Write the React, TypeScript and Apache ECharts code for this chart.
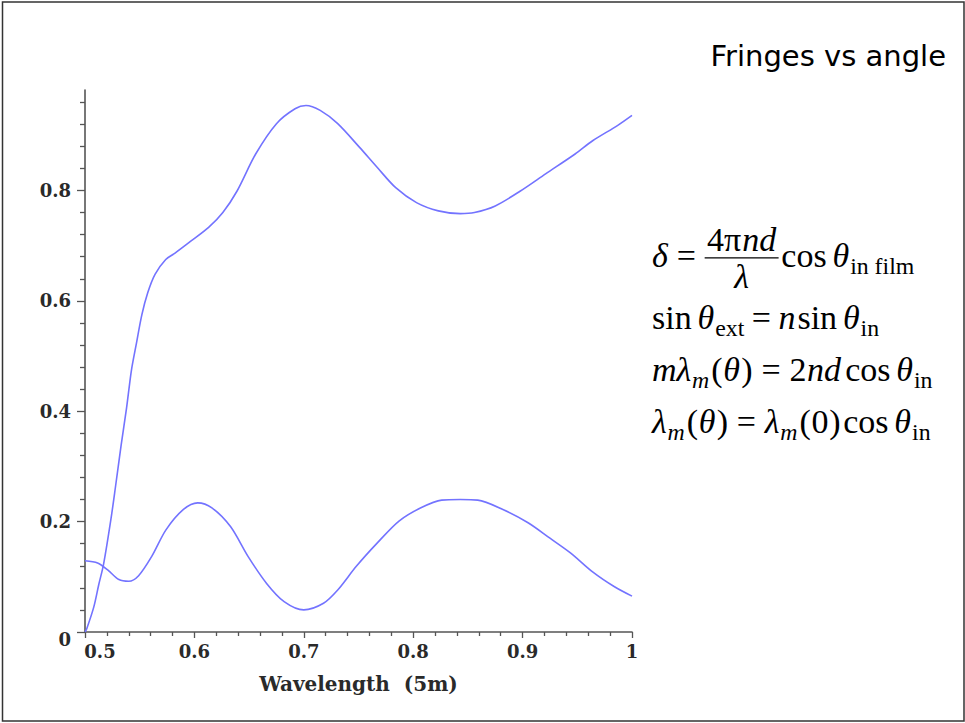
import React, { useEffect, useRef } from "react";
import * as echarts from "echarts";

// ---- data ----
const xTickValues = [0.5, 0.6, 0.7, 0.8, 0.9, 1];
const yLabelValues = [0, 0.2, 0.4, 0.6, 0.8];
const yMinorTickValues = [
  0.04, 0.08, 0.12, 0.16, 0.24, 0.28, 0.32, 0.36, 0.44, 0.48, 0.52, 0.56,
  0.64, 0.68, 0.72, 0.76, 0.84, 0.88, 0.92, 0.96,
];

const upperX = [
  0.5, 0.5016, 0.508, 0.5126, 0.517, 0.5236, 0.528, 0.533, 0.538, 0.5425,
  0.547, 0.552, 0.5574, 0.564, 0.5738, 0.582, 0.5967, 0.613, 0.626, 0.639,
  0.656, 0.675, 0.692, 0.702, 0.715, 0.731, 0.751, 0.767, 0.784, 0.803,
  0.823, 0.843, 0.856, 0.875, 0.898, 0.921, 0.948, 0.964, 0.987, 1.0,
];
const upperY = [
  0.0, 0.006, 0.045, 0.086, 0.123, 0.203, 0.265, 0.338, 0.406, 0.475,
  0.523, 0.575, 0.615, 0.648, 0.675, 0.686, 0.708, 0.733, 0.76, 0.799,
  0.866, 0.921, 0.948, 0.954, 0.945, 0.921, 0.878, 0.842, 0.805, 0.778,
  0.763, 0.758, 0.76, 0.772, 0.799, 0.83, 0.866, 0.89, 0.918, 0.936,
];

const lowerX = [
  0.5, 0.5115, 0.521, 0.531, 0.54, 0.549, 0.561, 0.574, 0.59, 0.603, 0.616,
  0.633, 0.649, 0.666, 0.682, 0.7, 0.718, 0.731, 0.748, 0.767, 0.787, 0.807,
  0.826, 0.843, 0.859, 0.882, 0.905, 0.925, 0.944, 0.964, 0.984, 1.0,
];
const lowerY = [
  0.129, 0.125, 0.112, 0.095, 0.092, 0.102, 0.137, 0.185, 0.222, 0.234,
  0.225, 0.191, 0.137, 0.088, 0.055, 0.04, 0.052, 0.076, 0.119, 0.161,
  0.201, 0.225, 0.239, 0.24, 0.239, 0.222, 0.198, 0.17, 0.143, 0.109, 0.082,
  0.065,
];

const titleText = "Fringes vs angle";
const xAxisName = "Wavelength  (5m)";

// ---- formula layout helpers ----
type Seg = { t: string; i?: boolean; sub?: boolean; gap?: number };
const MFONT = '"Liberation Serif", "Times New Roman", serif';
const FS = 34;
const SUB = 0.7;

let mctx: CanvasRenderingContext2D | null = null;
function measure(t: string, size: number, italic?: boolean) {
  if (!mctx) mctx = document.createElement("canvas").getContext("2d");
  if (!mctx) return t.length * size * 0.5;
  mctx.font = `${italic ? "italic " : ""}${size}px ${MFONT}`;
  return mctx.measureText(t).width;
}
function textEl(t: string, x: number, baseline: number, size: number, italic?: boolean) {
  return {
    type: "text",
    silent: true,
    x,
    y: baseline - 0.3375 * size,
    style: {
      text: t,
      fontSize: size,
      fontFamily: MFONT,
      fontStyle: italic ? "italic" : "normal",
      fill: "#000",
      align: "left",
      textAlign: "left",
      verticalAlign: "middle",
      textVerticalAlign: "middle",
    },
  };
}
function layoutSegs(segs: Seg[], x0: number, baseline: number, out: any[]) {
  let x = x0;
  for (const s of segs) {
    const size = s.sub ? FS * SUB : FS;
    x += (s.gap || 0) * FS;
    const bl = baseline + (s.sub ? 0.22 * FS : 0);
    out.push(textEl(s.t, x, bl, size, s.i));
    x += measure(s.t, size, s.i);
  }
  return x;
}
function segsWidth(segs: Seg[]) {
  let w = 0;
  for (const s of segs) {
    const size = s.sub ? FS * SUB : FS;
    w += (s.gap || 0) * FS + measure(s.t, size, s.i);
  }
  return w;
}

function buildFormula(x0: number, b1: number, b2: number, b3: number, b4: number) {
  const out: any[] = [];
  // line 1
  let x = layoutSegs([{ t: "δ", i: true }, { t: "=", gap: 0.26 }], x0, b1, out);
  x += 0.26 * FS;
  const num: Seg[] = [{ t: "4π" }, { t: "nd", i: true, gap: 0.03 }];
  const den: Seg[] = [{ t: "λ", i: true }];
  const nw = segsWidth(num);
  const dw = segsWidth(den);
  const bw = Math.max(nw, dw) + 0.14 * FS;
  const barY = b1 - 0.27 * FS;
  out.push({
    type: "line",
    silent: true,
    shape: { x1: x, y1: barY, x2: x + bw, y2: barY },
    style: { stroke: "#000", lineWidth: 1.3 },
  });
  layoutSegs(num, x + (bw - nw) / 2, barY - 0.2 * FS, out);
  layoutSegs(den, x + (bw - dw) / 2, barY + 0.9 * FS, out);
  x += bw;
  layoutSegs(
    [{ t: "cos", gap: 0.08 }, { t: "θ", i: true, gap: 0.17 }, { t: "in film", sub: true, gap: 0.03 }],
    x,
    b1,
    out
  );
  // line 2
  layoutSegs(
    [
      { t: "sin" },
      { t: "θ", i: true, gap: 0.17 },
      { t: "ext", sub: true, gap: 0.03 },
      { t: "=", gap: 0.22 },
      { t: "n", i: true, gap: 0.22 },
      { t: "sin", gap: 0.06 },
      { t: "θ", i: true, gap: 0.17 },
      { t: "in", sub: true, gap: 0.03 },
    ],
    x0,
    b2,
    out
  );
  // line 3
  layoutSegs(
    [
      { t: "m", i: true },
      { t: "λ", i: true },
      { t: "m", i: true, sub: true, gap: 0.02 },
      { t: "(", gap: 0.06 },
      { t: "θ", i: true, gap: 0.02 },
      { t: ")", gap: 0.04 },
      { t: "=", gap: 0.26 },
      { t: "2", gap: 0.26 },
      { t: "nd", i: true, gap: 0.02 },
      { t: "cos", gap: 0.12 },
      { t: "θ", i: true, gap: 0.17 },
      { t: "in", sub: true, gap: 0.03 },
    ],
    x0,
    b3,
    out
  );
  // line 4
  layoutSegs(
    [
      { t: "λ", i: true },
      { t: "m", i: true, sub: true, gap: 0.02 },
      { t: "(", gap: 0.06 },
      { t: "θ", i: true, gap: 0.02 },
      { t: ")", gap: 0.04 },
      { t: "=", gap: 0.26 },
      { t: "λ", i: true, gap: 0.26 },
      { t: "m", i: true, sub: true, gap: 0.02 },
      { t: "(", gap: 0.06 },
      { t: "0", gap: 0.02 },
      { t: ")", gap: 0.02 },
      { t: "cos", gap: 0.08 },
      { t: "θ", i: true, gap: 0.17 },
      { t: "in", sub: true, gap: 0.03 },
    ],
    x0,
    b4,
    out
  );
  return out;
}

const AXIS_COLOR = "#555";
const LABEL_FONT = '"DejaVu Serif", serif';

export default function App() {
  const ref = useRef<HTMLDivElement>(null);
  useEffect(() => {
    if (!ref.current) return;
    const chart = echarts.init(ref.current, undefined, { renderer: "svg" });
    const upper = upperX.map((x, k) => [x, upperY[k]]);
    const lower = lowerX.map((x, k) => [x, lowerY[k]]);
    const labelStyle = {
      fontFamily: LABEL_FONT,
      fontWeight: "bold" as const,
      fontSize: 18,
      color: "#2a2a2a",
    };
    const option: any = {
      animation: false,
      backgroundColor: "#fff",
      grid: { left: 85, right: 333, top: 90, bottom: 91 },
      xAxis: {
        type: "value",
        min: 0.5,
        max: 1,
        interval: 0.1,
        name: xAxisName,
        nameLocation: "middle",
        nameGap: 42,
        nameTextStyle: { ...labelStyle, fontSize: 20 },
        axisLine: { show: true, onZero: false, lineStyle: { color: AXIS_COLOR, width: 1.6 } },
        axisTick: { show: true, length: 6, lineStyle: { color: AXIS_COLOR, width: 1.3 } },
        minorTick: { show: true, splitNumber: 5, length: 4, lineStyle: { color: AXIS_COLOR, width: 1.3 } },
        splitLine: { show: false },
        axisLabel: {
          ...labelStyle,
          margin: 10,
          customValues: xTickValues,
          formatter: (v: number) => (Math.abs(v - 0.5) < 1e-9 ? "{o|0.5}" : String(+v.toFixed(1))),
          rich: { o: { ...labelStyle, padding: [0, 0, 0, 30] } },
        },
      },
      yAxis: [
        {
          type: "value",
          min: 0,
          max: 0.982,
          position: "left",
          axisLine: { show: true, onZero: false, lineStyle: { color: AXIS_COLOR, width: 1.6 } },
          axisTick: { show: true, length: 8, customValues: yLabelValues, lineStyle: { color: AXIS_COLOR, width: 1.3 } },
          splitLine: { show: false },
          axisLabel: {
            ...labelStyle,
            margin: 14,
            customValues: yLabelValues,
            formatter: (v: number) => (Math.abs(v) < 1e-9 ? "{z|0}" : String(+v.toFixed(1))),
            rich: { z: { ...labelStyle, padding: [14, 0, 0, 0] } },
          },
        },
        {
          type: "value",
          min: 0,
          max: 0.982,
          position: "left",
          axisLine: { show: false },
          axisTick: { show: true, length: 5, customValues: yMinorTickValues, lineStyle: { color: AXIS_COLOR, width: 1.3 } },
          axisLabel: { show: false },
          splitLine: { show: false },
        },
      ],
      series: [
        {
          type: "line",
          data: upper,
          showSymbol: false,
          smooth: 0.3,
          lineStyle: { color: "#7373ff", width: 1.6 },
          silent: true,
        },
        {
          type: "line",
          data: lower,
          showSymbol: false,
          smooth: 0.3,
          lineStyle: { color: "#7373ff", width: 1.6 },
          silent: true,
        },
      ],
      graphic: [
        {
          type: "rect",
          silent: true,
          shape: { x: 2.5, y: 2, width: 961.5, height: 719 },
          style: { fill: "none", stroke: "#333", lineWidth: 1.5 },
        },
        {
          type: "text",
          silent: true,
          x: 946,
          y: 66 - 0.346 * 29,
          style: {
            text: titleText,
            fontFamily: '"DejaVu Sans", sans-serif',
            fontSize: 29,
            fill: "#000",
            align: "right",
            textAlign: "right",
            verticalAlign: "middle",
            textVerticalAlign: "middle",
          },
        },
        ...buildFormula(652, 267, 329, 381, 433),
      ],
    };
    chart.setOption(option);
    return () => chart.dispose();
  }, []);
  return (
    <div
      ref={ref}
      style={{ position: "absolute", left: 0, top: 0, width: 965, height: 723, background: "#fff" }}
    />
  );
}
